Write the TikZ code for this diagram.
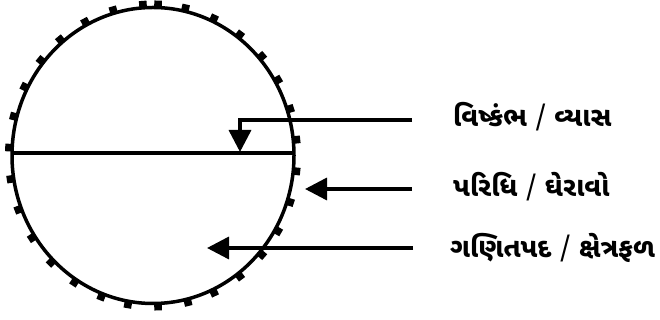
\documentclass[tikz,border=0pt]{standalone}
\usepackage{fontspec}
\usepackage{tikz}
\usetikzlibrary{arrows.meta,positioning,calc}
\newfontfamily\gujfont[Script=Gujarati]{Noto Sans Gujarati UI}
\newcommand{\sep}{\hspace{8pt}{\mdseries/}\hspace{8pt}}

\begin{document}
\begin{tikzpicture}[
    x=1pt, y=1pt,
    every node/.style={font=\gujfont\bfseries\fontsize{27}{30}\selectfont},
    lbl/.style={anchor=west, inner sep=0pt},
    pointer/.style={line width=3.5pt, -{Triangle[width=22pt,length=22pt]}},
    tick/.style={fill=black}
]
\useasboundingbox (0,0) rectangle (660,320);

% Circle with the ticks around it
\coordinate (centre) at (153,164.5);
\draw[line width=3.5pt] (centre) ellipse [x radius=141, y radius=148];
\foreach \a in {6,18,30,41,53,65,77,88,94,106,118,130,141,153,165,177,
                189,201,213,225,237,249,260,272,284,295,307,319,330,342,354}
    \fill[tick, shift={(centre)}, shift={(\a:141pt and 148pt)}, rotate=\a]
        (-1,-3.8) rectangle (7,3.8);

% Diameter
\coordinate (left) at (12,167);
\coordinate (right) at (294,167);
\draw[line width=3.5pt] (left) -- (right);

% Labels
\node[lbl] (diam) at (453,203) {વિષ્કંભ\sep વ્યાસ};
\node[lbl] (circ) at (453,133) {પરિધિ\sep ઘેરાવો};
\node[lbl] (area) at (450,72) {ગણિતપદ\sep ક્ષેત્રફળ};

% Arrows
\coordinate (diamA) at (412,200);
\coordinate (diamB) at (240,168);
\draw[pointer] (diamA) -| (diamB);

\coordinate (circA) at (412,131);
\coordinate (circB) at (305,131);
\draw[pointer] (circA) -- (circB);

\coordinate (areaA) at (413,72);
\coordinate (areaB) at (207,72);
\draw[pointer] (areaA) -- (areaB);

\end{tikzpicture}
\end{document}
